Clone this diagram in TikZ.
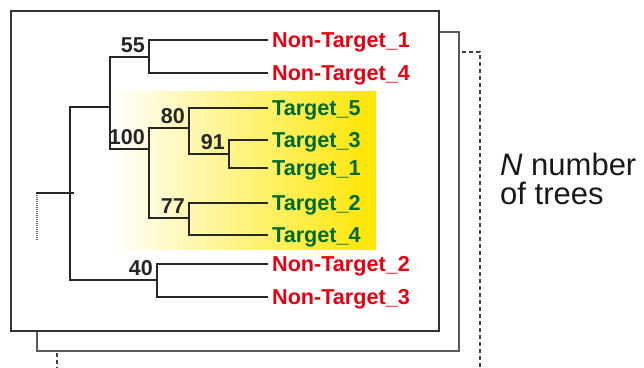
\documentclass[tikz,border=0pt]{standalone}
\usepackage{fontspec}
\setmainfont{Liberation Sans}
\definecolor{ntred}{RGB}{230,0,18}
\definecolor{tgreen}{RGB}{0,105,45}
\definecolor{clyellow}{RGB}{255,230,0}
\tikzset{
  branch/.style={line width=2pt,draw=black!85,line cap=rect},
  leaf/.style={anchor=west,inner xsep=5pt,inner ysep=0pt,text height=15pt,text depth=0pt,
    font=\fontsize{21.6}{25}\selectfont\bfseries},
  nontarget/.style={leaf,text=ntred},
  target/.style={leaf,text=tgreen},
  boot/.style={anchor=base east,inner sep=0pt,font=\fontsize{21.5}{25}\selectfont\bfseries,text=black!85},
  frame/.style={fill=white,draw=black!80,line width=1.3pt},
}
\begin{document}
\begin{tikzpicture}[x=1pt,y=-1pt]
\useasboundingbox (0,0) rectangle (644,367);
\clip (0,0) rectangle (644,367);
\draw[dashed,draw=black!75,line width=1.1pt,dash pattern=on 4pt off 3pt] (57,52) rectangle (480,390);
\draw[frame,draw=black!65] (37,32) rectangle (459,351);
\draw[frame] (11,11) rectangle (439,331);
\fill[left color=white,right color=clyellow] (110,91) rectangle (376,249);
\coordinate (rootbase) at (37,193);
\coordinate (rootend) at (37,241);
\coordinate (roottick) at (73,193);
\coordinate (root) at (70,193);
\coordinate (nA) at (110,107);
\coordinate (n55) at (149,57);
\coordinate (n100) at (149,149);
\coordinate (n80) at (189,128);
\coordinate (n91) at (229,154);
\coordinate (n77) at (189,218);
\coordinate (n40) at (157,280);
\node[nontarget] (nt1) at (267,40) {Non-Target\_1};
\node[nontarget] (nt4) at (267,73) {Non-Target\_4};
\node[target] (t5) at (267,108) {Target\_5};
\node[target] (t3) at (267,140) {Target\_3};
\node[target] (t1) at (267,168) {Target\_1};
\node[target] (t2) at (267,203) {Target\_2};
\node[target] (t4) at (267,235) {Target\_4};
\node[nontarget] (nt2) at (267,264) {Non-Target\_2};
\node[nontarget] (nt3) at (267,297) {Non-Target\_3};
\draw[dash pattern=on 1pt off 1pt,line width=1.5pt,draw=black!60] (rootbase) -- (rootend);
\draw[branch] (rootbase) -- (roottick);
\draw[branch] (root) |- (nA);
\draw[branch] (root) |- (n40);
\draw[branch] (nA) |- (n55);
\draw[branch] (nA) |- (n100);
\draw[branch] (n55) |- (nt1.west);
\draw[branch] (n55) |- (nt4.west);
\draw[branch] (n100) |- (n80);
\draw[branch] (n100) |- (n77);
\draw[branch] (n80) |- (t5.west);
\draw[branch] (n80) |- (n91);
\draw[branch] (n91) |- (t3.west);
\draw[branch] (n91) |- (t1.west);
\draw[branch] (n77) |- (t2.west);
\draw[branch] (n77) |- (t4.west);
\draw[branch] (n40) |- (nt2.west);
\draw[branch] (n40) |- (nt3.west);
\node[boot] (b55) at ([xshift=-4pt,yshift=4.5pt]n55) {55};
\node[boot] (b100) at ([xshift=-4pt,yshift=4.5pt]n100) {100};
\node[boot] (b80) at ([xshift=-4pt,yshift=4.5pt]n80) {80};
\node[boot] (b91) at ([xshift=-4pt,yshift=4.5pt]n91) {91};
\node[boot] (b77) at ([xshift=-4pt,yshift=4.5pt]n77) {77};
\node[boot] (b40) at ([xshift=-4pt,yshift=4.5pt]n40) {40};
\node[anchor=base west,inner sep=0pt,font=\fontsize{31}{29}\selectfont,text=black!90] (ntrees) at (500,175) {\textit{N} number};
\node[anchor=base west,inner sep=0pt,font=\fontsize{31}{29}\selectfont,text=black!90] (oftrees) at (500,204) {of trees};
\end{tikzpicture}
\end{document}
